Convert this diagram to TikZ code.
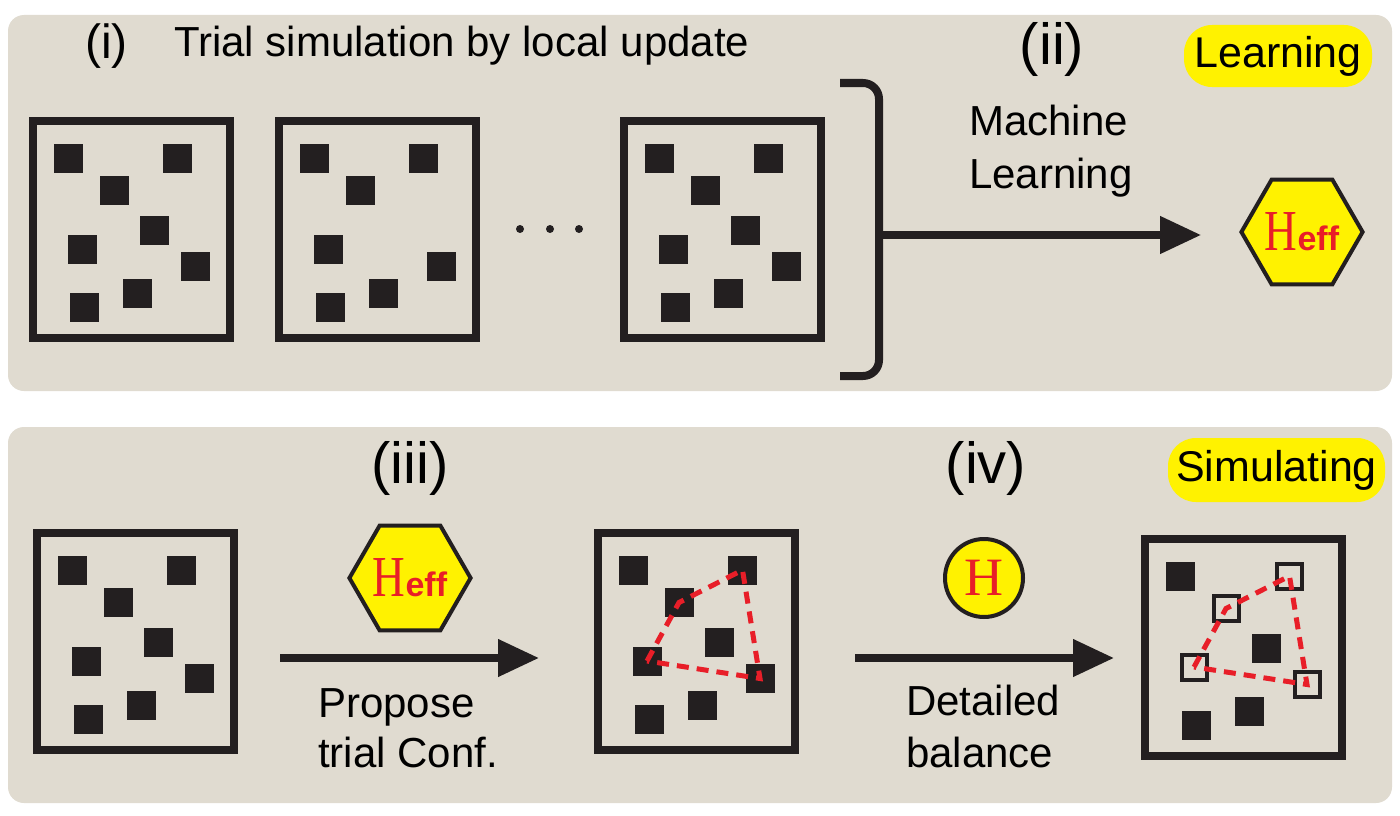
\documentclass[tikz,border=0pt]{standalone}
\usepackage{fontspec}
\setmainfont{Liberation Sans}
\newfontfamily\serifH{Liberation Serif}
\usetikzlibrary{shapes.geometric,arrows.meta}
\definecolor{panel}{RGB}{224,219,208}
\definecolor{ink}{RGB}{35,31,32}
\definecolor{yel}{RGB}{255,242,0}
\definecolor{red1}{RGB}{232,30,40}
\newcommand\placesq[5]{%
  \pgfmathsetmacro\ox{{39.5,148.5,85,125,53,166,108.5,55}[#4-1]}%
  \pgfmathsetmacro\oy{{41,41,73.5,113.5,132,149.5,176,190}[#4-1]}%
  \node[#5] (#1s#4) at (#2+\ox,#3+\oy) {};}
\newcommand\Heff{\textcolor{red1}{{\fontsize{58}{58}\selectfont\serifH\scalebox{0.78}[1]{H}}{\fontsize{34}{34}\selectfont\bfseries eff}}}
\tikzset{
  cfgbox/.style={draw=ink, line width=8, minimum width=197, minimum height=217, inner sep=0},
  sq/.style={fill=ink, minimum size=29, inner sep=0},
  osq/.style={draw=ink, line width=4, minimum size=25, inner sep=0},
  hexa/.style={regular polygon, regular polygon sides=6, draw=ink, line width=4, fill=yel, minimum size=118, inner sep=0},
  circ/.style={circle, draw=ink, line width=4, fill=yel, minimum size=78, inner sep=0},
  arr/.style={draw=ink, line width=7.5, -{Triangle[length=41pt,width=36pt]}},
  rdash/.style={draw=red1, line width=5, dash pattern=on 12pt off 8pt},
  lab/.style={font=\fontsize{42}{50}\selectfont, text=black, inner sep=0},
  big/.style={font=\fontsize{58}{60}\selectfont, text=black, inner sep=0},
  tag/.style={fill=yel, rounded corners=28, inner sep=0, font=\fontsize{43}{50}\selectfont},
}
\begin{document}
\begin{tikzpicture}[x=1pt,y=-1pt]
\useasboundingbox (0,0) rectangle (1400,816);
\fill[white] (0,0) rectangle (1400,816);
% panels
\fill[panel, rounded corners=16] (8,15) rectangle (1392,391);
\fill[panel, rounded corners=16] (8,427) rectangle (1392,803);

% ---------- top panel ----------
\node[big, font=\fontsize{48}{50}\selectfont, anchor=base west] (li) at (85,59) {(i)};
\node[lab, anchor=base west] (ttl) at (174,57) {Trial simulation by local update};

\node[cfgbox] (b1) at (29+102.5,117+112.5) {};
\foreach \i in {1,...,8} {\placesq{b1}{29}{117}{\i}{sq}}
\node[cfgbox] (b2) at (275+102.5,117+112.5) {};
\foreach \i in {1,2,3,5,6,7,8} {\placesq{b2}{275}{117}{\i}{sq}}
\node[cfgbox] (b3) at (620+102.5,117+112.5) {};
\foreach \i in {1,...,8} {\placesq{b3}{620}{117}{\i}{sq}}

\foreach \x in {520,550,579} {\fill[ink] (\x,229) circle (4);}

\draw[ink, line width=8, rounded corners=16] (840,83) -- (879,83) -- (879,376) -- (840,376);
\coordinate (brk) at (879,235);

\node[big, anchor=base] (lii) at (1052,64) {(ii)};
\node[lab, anchor=base west] (ml1) at (969,135) {Machine};
\node[lab, anchor=base west] (ml2) at (969,188) {Learning};

\node[hexa] (hexL) at (1302,232) {\Heff};
\draw[arr, shorten >=38pt] (brk) -- (hexL.west |- brk);

\node[tag, minimum width=188, minimum height=62] (tagL) at (1278,56) {Learning};

% ---------- bottom panel ----------
\node[big, anchor=base] (liii) at (410,483) {(iii)};
\node[big, anchor=base] (liv) at (986,483) {(iv)};

\node[cfgbox] (c1) at (33+102.5,529+112.5) {};
\foreach \i in {1,...,8} {\placesq{c1}{33}{529}{\i}{sq}}
\node[cfgbox] (c2) at (594+102.5,529+112.5) {};
\foreach \i in {1,...,8} {\placesq{c2}{594}{529}{\i}{sq}}
\node[cfgbox] (c3) at (1141+102.5,535+112.5) {};
\foreach \i/\s in {1/sq,2/osq,3/osq,4/sq,5/osq,6/osq,7/sq,8/sq} {\placesq{c3}{1141}{535}{\i}{\s}}

\draw[rdash] (c2s5.center) -- (c2s3.center) -- (c2s2.center) -- (c2s6.center) -- cycle;
\draw[rdash] (c3s5.center) -- (c3s3.center) -- (c3s2.center) -- (c3s6.center) -- cycle;

\node[hexa] (hexB) at (410,578) {\Heff};
\node[circ] (hc) at (984,578) {\textcolor{red1}{\fontsize{54}{54}\selectfont\serifH H}};

\coordinate (a1s) at (280,658);
\coordinate (a1e) at (539,658);
\coordinate (a2s) at (855,658);
\coordinate (a2e) at (1114,658);
\draw[arr] (a1s) -- (a1e);
\draw[arr] (a2s) -- (a2e);

\node[lab, anchor=base west] (pp1) at (318,717) {Propose};
\node[lab, anchor=base west] (pp2) at (318,767) {trial Conf.};
\node[lab, anchor=base west] (db1) at (906,715) {Detailed};
\node[lab, anchor=base west] (db2) at (906,767) {balance};

\node[tag, minimum width=217, minimum height=64] (tagS) at (1276.5,470) {Simulating};
\end{tikzpicture}
\end{document}
